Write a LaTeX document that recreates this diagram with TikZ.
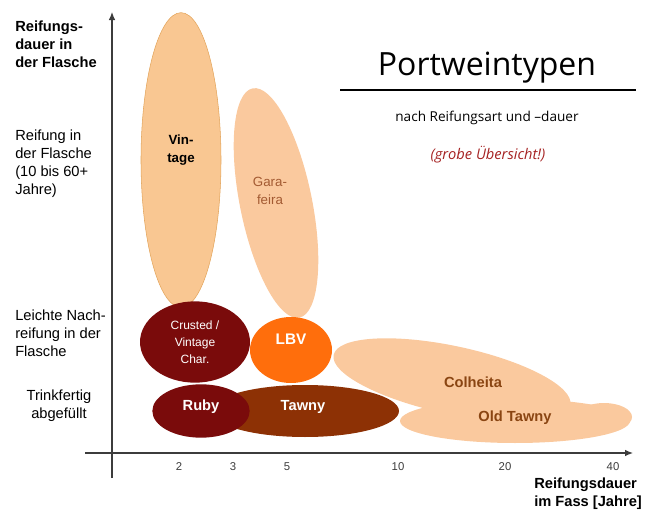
\documentclass[tikz,border=0pt]{standalone}
\usepackage{fontspec}
\setmainfont{Liberation Sans}
\newfontfamily\titlefont{Open Sans}
\usetikzlibrary{shapes.geometric,arrows.meta}

\definecolor{peach}{HTML}{F9C792}
\definecolor{peachline}{HTML}{E3A55C}
\definecolor{paleorange}{HTML}{FAC99E}
\definecolor{darkred}{HTML}{7A0B0B}
\definecolor{lbvorange}{HTML}{FF6E0C}
\definecolor{tawnybrown}{HTML}{8D3105}
\definecolor{labelbrown}{HTML}{8A4512}
\definecolor{garabrown}{HTML}{A35A32}
\definecolor{noteRed}{HTML}{A52222}
\definecolor{axisgray}{HTML}{3C3C3C}

\begin{document}
\begin{tikzpicture}[x=0.75pt, y=-0.75pt,
    blob/.style={ellipse, inner sep=0pt, text=white, align=center},
    rowlabel/.style={anchor=north west, align=left, inner sep=0pt, font=\fontsize{11}{13.5}\selectfont},
    ticklabel/.style={font=\fontsize{8.5}{9}\selectfont, text=axisgray},
    winelabel/.style={font=\bfseries\fontsize{11}{12}\selectfont}
]
\useasboundingbox (0,0) rectangle (654,514);

% Bottle aged types
\node[blob, fill=peach, draw=peachline, line width=0.4pt,
    minimum width=60pt, minimum height=221pt] (Vintage) at (181,160) {};
\node[winelabel, align=center, font=\bfseries\fontsize{10}{14}\selectfont] (Vintage-text) at (181,150) {Vin-\\tage};

\begin{scope}[shift={(276,203)}, rotate=11.5]
    \fill[paleorange] (0,0) ellipse (36 and 117);
\end{scope}
\node[align=center, text=garabrown, font=\fontsize{10}{13.5}\selectfont] (Garafeira-text) at (270,191) {Gara-\\feira};

% Cask aged types
\begin{scope}[shift={(452,380)}, rotate=-12]
    \fill[paleorange] (0,0) ellipse (121 and 34);
\end{scope}
\fill[paleorange] (515,421) ellipse (115 and 22);
\fill[paleorange] (604,417) ellipse (28 and 14);
\node[winelabel, text=labelbrown] (Colheita) at (473,382) {Colheita};
\node[winelabel, text=labelbrown] (OldTawny) at (515,418) {Old Tawny};

% Short aged types
\node[blob, fill=darkred, minimum width=82.5pt, minimum height=61pt,
    font=\fontsize{9}{12.75}\selectfont] (Crusted) at (195,342) {Crusted /\\Vintage\\Char.};
\node[blob, fill=lbvorange, minimum width=61.5pt, minimum height=49.5pt] (LBV) at (291,350) {};
\node[winelabel, text=white, font=\bfseries\fontsize{11.5}{12}\selectfont] (LBV-text) at (291,339) {LBV};
\node[blob, fill=tawnybrown, minimum width=141pt, minimum height=39pt] (Tawny) at (305,411) {};
\node[winelabel, text=white] (Tawny-text) at (303,407) {Tawny};
\node[blob, fill=darkred, minimum width=73pt, minimum height=40pt] (Ruby) at (201,411) {};
\node[winelabel, text=white] (Ruby-text) at (201,407) {Ruby};

% Axes
\coordinate (y-start) at (112,478);
\coordinate (y-end) at (112,12);
\coordinate (x-start) at (85,453);
\coordinate (x-end) at (633,453);
\draw[axisgray, line width=0.9pt, -{Latex[length=6pt,width=5pt]}] (y-start) -- (y-end);
\draw[axisgray, line width=0.9pt, -{Latex[length=6pt,width=5pt]}] (x-start) -- (x-end);

% Ticks
\foreach \x/\t in {179/2, 233/3, 287/5, 398/10, 505/20, 613/40}
{
    \node[ticklabel] (Tick-\t) at (\x,467) {\t};
}

% Axis titles
\node[rowlabel, font=\bfseries\fontsize{11}{13.5}\selectfont] (Y-title) at (15,21) {Reifungs-\\dauer in\\der Flasche};
\node[anchor=north west, align=left, inner sep=0pt, font=\bfseries\fontsize{11}{13.5}\selectfont] (X-title) at (534,478) {Reifungsdauer\\im Fass [Jahre]};

% Row labels
\node[rowlabel] (Row-bottle) at (15,130) {Reifung in\\der Flasche\\(10 bis 60+\\Jahre)};
\node[rowlabel] (Row-light) at (15,310) {Leichte Nach-\\reifung in der\\Flasche};
\node[rowlabel, align=center, anchor=north] (Row-ready) at (59,390) {Trinkfertig\\abgefüllt};

% Title
\node[font=\titlefont\fontsize{24}{26}\selectfont] (Title) at (487,68) {Portweintypen};
\coordinate (rule-left) at (340,90);
\coordinate (rule-right) at (636,90);
\draw[line width=0.8pt] (rule-left) -- (rule-right);
\node[font=\titlefont\fontsize{10.2}{11}\selectfont] (Subtitle) at (487,118) {nach Reifungsart und –dauer};
\node[font=\titlefont\itshape\fontsize{11}{12}\selectfont, text=noteRed] (Note) at (488,155) {(grobe Übersicht!)};

\end{tikzpicture}
\end{document}
